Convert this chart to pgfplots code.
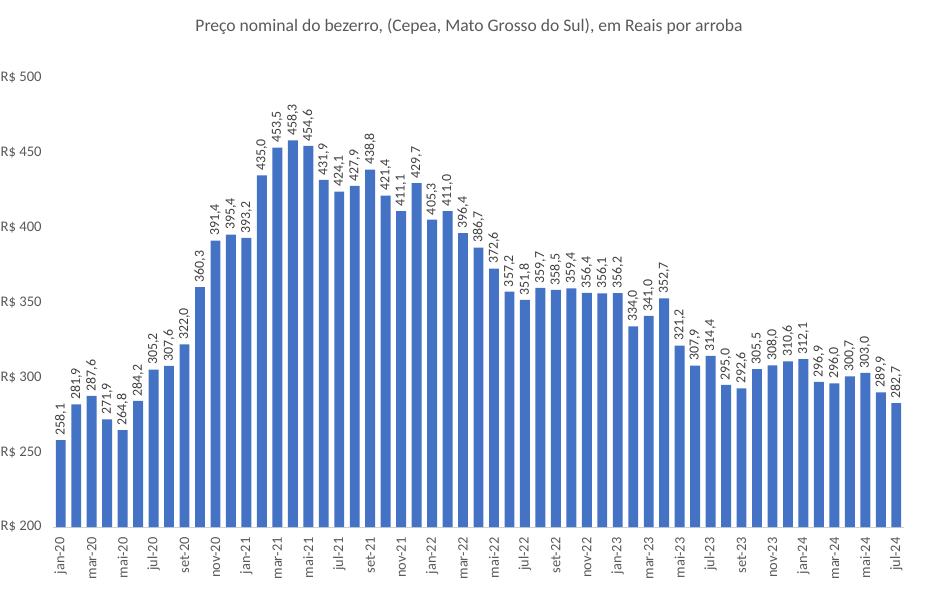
\documentclass[border=0pt]{standalone}
\usepackage{fontspec}
\setmainfont{Carlito}
\usepackage{pgfplots}
\pgfplotsset{compat=1.18}
\usepackage{pgfplotstable}
\definecolor{barblue}{HTML}{4472C4}
\definecolor{txtgray}{HTML}{595959}
\definecolor{lblgray}{HTML}{404040}
\definecolor{axgray}{HTML}{D0D0D0}
\pgfplotstableread{
x y
0 258.1
1 281.9
2 287.6
3 271.9
4 264.8
5 284.2
6 305.2
7 307.6
8 322.0
9 360.3
10 391.4
11 395.4
12 393.2
13 435.0
14 453.5
15 458.3
16 454.6
17 431.9
18 424.1
19 427.9
20 438.8
21 421.4
22 411.1
23 429.7
24 405.3
25 411.0
26 396.4
27 386.7
28 372.6
29 357.2
30 351.8
31 359.7
32 358.5
33 359.4
34 356.4
35 356.1
36 356.2
37 334.0
38 341.0
39 352.7
40 321.2
41 307.9
42 314.4
43 295.0
44 292.6
45 305.5
46 308.0
47 310.6
48 312.1
49 296.9
50 296.0
51 300.7
52 303.0
53 289.9
54 282.7
}\datatable
\begin{document}
\begin{tikzpicture}
\useasboundingbox (0,0) rectangle (711pt,441.75pt);
\node[text=txtgray, font=\fontsize{13.2}{15}\selectfont] at (351.75pt,421.5pt) {Preço nominal do bezerro, (Cepea, Mato Grosso do Sul), em Reais por arroba};
\begin{axis}[
  at={(39.75pt,46.5pt)}, anchor=south west,
  scale only axis, width=638.25pt, height=336.75pt,
  xmin=-0.5, xmax=54.5, ymin=200, ymax=500,
  ybar, bar width=0.64,
  axis x line*=bottom, axis y line*=left,
  x axis line style={draw=axgray, line width=0.75pt, -},
  y axis line style={draw=none},
  xtick={0,2,...,54},
  xticklabels={jan-20,mar-20,mai-20,jul-20,set-20,nov-20,jan-21,mar-21,mai-21,jul-21,set-21,nov-21,jan-22,mar-22,mai-22,jul-22,set-22,nov-22,jan-23,mar-23,mai-23,jul-23,set-23,nov-23,jan-24,mar-24,mai-24,jul-24},
  x tick style={draw=none},
  y tick style={draw=none},
  extra x ticks={-0.5,1.5,...,53.5},
  extra x tick labels={},
  extra x tick style={tick style={draw=axgray, line width=0.75pt}, major tick length=4pt, tick align=outside},
  xticklabel style={rotate=90, anchor=east, text=txtgray, font=\fontsize{10.8}{12}\selectfont},
  ytick={200,250,...,500},
  yticklabels={R\$ 200,R\$ 250,R\$ 300,R\$ 350,R\$ 400,R\$ 450,R\$ 500},
  yticklabel style={text=txtgray, font=\fontsize{11}{13}\selectfont, xshift=-5pt},
  clip=false,
  nodes near coords,
  nodes near coords style={rotate=90, anchor=west, text=lblgray, font=\fontsize{10.4}{12}\selectfont, /pgf/number format/.cd, fixed, fixed zerofill, precision=1, use comma, 1000 sep={}, assume math mode=true},
]
\addplot[fill=barblue, draw=none] table[x=x,y=y] {\datatable};
\end{axis}
\end{tikzpicture}
\end{document}
